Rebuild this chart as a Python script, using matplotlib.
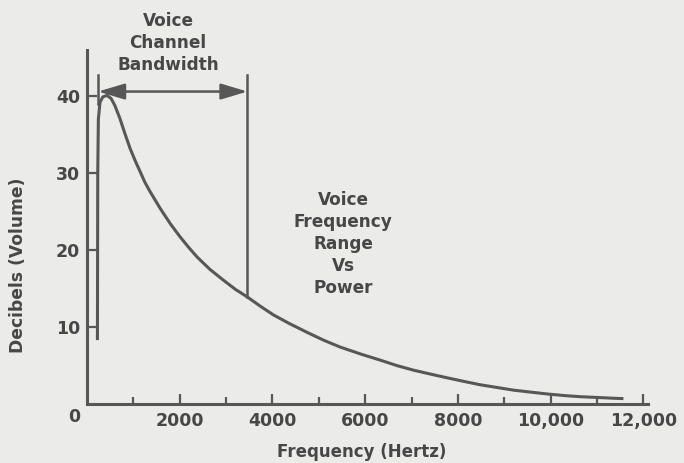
import matplotlib
matplotlib.use('Agg')
import matplotlib.pyplot as plt

# Curve (Hz, dB)
freq_hz = [225, 232, 245, 280, 340, 430, 520, 600, 710, 820, 930, 1040, 1145, 1250,
           1360, 1470, 1580, 1800, 2010, 2200, 2375, 2650, 2940, 3200, 3460, 3740,
           4015, 4350, 4750, 5100, 5460, 5900, 6325, 6680, 7040, 7400, 7770, 8120,
           8480, 8840, 9200, 9560, 9930, 10290, 10640, 11000, 11350, 11570]
volume_db = [8.3, 30.0, 37.0, 39.2, 39.9, 40.1, 39.7, 38.8, 37.1, 35.1, 33.2, 31.6, 30.2, 28.8,
             27.6, 26.5, 25.4, 23.4, 21.7, 20.3, 19.1, 17.5, 16.1, 14.9, 13.9, 12.7,
             11.6, 10.5, 9.3, 8.3, 7.4, 6.5, 5.7, 5.0, 4.4, 3.9, 3.4, 2.95,
             2.5, 2.15, 1.8, 1.55, 1.3, 1.1, 0.95, 0.85, 0.75, 0.7]

band_low, band_high = 240, 3460
band_arrow_db = 40.6
band_top_db = 42.7
band_low_bottom_db = 39.0
band_high_bottom_db = 13.9

x_major = [2000, 4000, 6000, 8000, 10000, 12000]
x_major_labels = ['2000', '4000', '6000', '8000', '10,000', '12,000']
x_minor = [1000, 3000, 5000, 7000, 9000, 11000]
y_ticks = [10, 20, 30, 40]

INK = '#575757'
TXT = '#474747'
BG = '#ebebea'

plt.rcParams['font.family'] = ['DejaVu Sans']

fig = plt.figure(figsize=(6.84, 4.63), dpi=100)
fig.patch.set_facecolor(BG)
ax = fig.add_axes([87 / 684, 1 - 404 / 463, 561 / 684, 354 / 463])
ax.set_facecolor(BG)

ax.plot(freq_hz, volume_db, color=INK, lw=2.2, solid_capstyle='butt',
        solid_joinstyle='round', zorder=3)

# bandwidth markers
ax.plot([band_low, band_low], [band_low_bottom_db, band_top_db], color=INK, lw=1.8)
ax.plot([band_high, band_high], [band_high_bottom_db, band_top_db], color=INK, lw=1.8)
ax.annotate('', xy=(band_high, band_arrow_db), xytext=(band_low, band_arrow_db),
            arrowprops=dict(arrowstyle='<|-|>,head_length=0.9,head_width=0.27',
                            color=INK, lw=1.8, mutation_scale=18,
                            shrinkA=0, shrinkB=0))

ax.set_xlim(0, 12100)
ax.set_ylim(0, 46)

for side in ['top', 'right']:
    ax.spines[side].set_visible(False)
for side in ['left', 'bottom']:
    ax.spines[side].set_color(INK)
    ax.spines[side].set_linewidth(2.2)

ax.set_xticks(x_major)
ax.set_xticklabels(x_major_labels)
ax.set_xticks(x_minor, minor=True)
ax.set_yticks(y_ticks)
ax.tick_params(axis='both', which='major', direction='in', length=7, width=1.6,
               color=INK, labelcolor=TXT, labelsize=12.5)
ax.tick_params(axis='x', which='minor', direction='in', length=5, width=1.6, color=INK)
ax.tick_params(axis='x', which='major', pad=6)
ax.tick_params(axis='y', which='major', pad=5)
for lab in ax.get_xticklabels() + ax.get_yticklabels():
    lab.set_fontweight('bold')

ax.text(-280, -1.7, '0', ha='center', va='center', fontsize=12.5,
        fontweight='bold', color=TXT, clip_on=False)

ax.set_xlabel('Frequency (Hertz)', fontsize=12, fontweight='bold', color=TXT)
ax.xaxis.set_label_coords((362 - 87) / 561, -(452 - 404) / 354)
ax.xaxis.label.set_va('center')
ax.set_ylabel('Decibels (Volume)', fontsize=12.3, fontweight='bold', color=TXT)
ax.yaxis.set_label_coords(-(87 - 18) / 561, (404 - 265) / 354)
ax.yaxis.label.set_va('center')

fig.text(168 / 684, 1 - 43 / 463, 'Voice\nChannel\nBandwidth', ha='center', va='center',
         fontsize=12.2, fontweight='bold', color=TXT, linespacing=1.3)
fig.text(343 / 684, 1 - 244 / 463, 'Voice\nFrequency\nRange\nVs\nPower', ha='center',
         va='center', fontsize=12.2, fontweight='bold', color=TXT, linespacing=1.3)

fig.savefig('out.png', dpi=100, facecolor=BG)
